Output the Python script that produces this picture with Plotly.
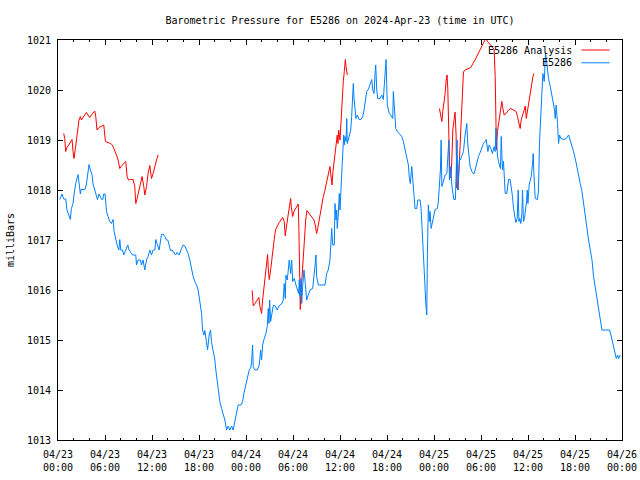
import pandas as pd
import plotly.graph_objects as go

TITLE = "Barometric Pressure for E5286 on 2024-Apr-23 (time in UTC)"
BASE = "2024-04-23 00:00"

# E5286 observations: hours since 2024-04-23 00:00 UTC, pressure (mb)
obs_hours = [0.22, 0.51, 0.73, 0.98, 1.15, 1.41, 1.58, 1.71, 1.92, 2.04, 2.26, 2.56, 2.68, 2.86, 2.94, 3.45, 3.63, 3.76, 3.96, 4.14,
             4.35, 4.47, 4.69, 4.91, 5.04, 5.24, 5.42, 5.58, 5.71, 5.84, 6.01, 6.19, 6.39, 6.61, 6.82, 7.03, 7.16, 7.37, 7.59, 7.76,
             7.89, 8.01, 8.23, 8.4, 8.65, 8.91, 9.07, 9.29, 9.51, 9.93, 10.02, 10.22, 10.53, 10.66, 10.86, 11.08, 11.3, 11.5, 11.72, 11.94,
             12.14, 12.36, 12.49, 12.65, 12.91, 13.21, 13.42, 13.64, 13.85, 14.02, 14.19, 14.36, 14.57, 14.79, 15.0, 15.21, 15.46, 15.77, 15.97, 16.19,
             16.41, 16.61, 16.83, 17.05, 17.25, 17.47, 17.69, 17.89, 18.11, 18.33, 18.45, 18.62, 18.75, 18.88, 18.96, 19.09, 19.3, 19.48, 19.6, 19.81,
             20.03, 20.15, 20.32, 20.5, 20.66, 20.88, 21.09, 21.3, 21.52, 21.73, 21.94, 22.16, 22.36, 22.58, 22.8, 23.0, 23.35, 23.57, 23.73, 23.99,
             24.2, 24.41, 24.59, 24.72, 24.84, 24.92, 25.14, 25.43, 25.69, 25.87, 25.99, 26.12, 26.33, 26.54, 26.71, 26.84, 26.93, 27.02, 27.14, 27.27,
             27.48, 27.69, 27.99, 28.24, 28.55, 28.75, 28.88, 29.01, 29.1, 29.27, 29.39, 29.52, 29.7, 29.83, 29.96, 30.16, 30.38, 30.54, 30.72, 30.8,
             30.89, 31.02, 31.11, 31.23, 31.4, 31.57, 31.74, 31.95, 32.17, 32.51, 32.68, 32.84, 32.93, 33.02, 33.23, 34.08, 34.3, 34.5, 34.72, 34.85,
             34.94, 35.07, 35.27, 35.36, 35.49, 35.58, 35.65, 35.78, 35.91, 36.0, 36.13, 36.22, 36.35, 36.47, 36.55, 36.64, 36.77, 36.86, 36.93, 37.06,
             37.19, 37.37, 37.49, 37.62, 37.7, 37.79, 37.92, 38.04, 38.21, 38.43, 38.68, 38.9, 39.07, 39.2, 39.41, 39.62, 39.83, 40.05, 40.18, 40.35,
             40.47, 40.56, 40.69, 40.82, 41.11, 41.33, 41.53, 41.75, 41.88, 42.04, 42.3, 42.56, 42.73, 42.81, 42.94, 43.12, 43.32, 43.54, 43.88, 44.09,
             44.31, 44.52, 44.73, 44.86, 44.98, 45.16, 45.29, 45.46, 45.58, 45.8, 45.93, 46.22, 46.35, 46.52, 46.7, 46.82, 46.95, 47.08, 47.16, 47.28,
             47.41, 47.5, 47.63, 47.8, 47.97, 48.14, 48.43, 48.56, 48.69, 48.82, 48.91, 49.0, 49.12, 49.25, 49.42, 49.64, 49.76, 49.89, 49.97, 50.15,
             50.27, 50.4, 50.53, 50.73, 50.86, 50.95, 51.04, 51.12, 51.25, 51.37, 51.55, 51.76, 51.97, 52.19, 52.32, 52.49, 52.61, 52.83, 53.09, 53.25,
             53.47, 53.67, 53.89, 54.11, 54.31, 54.53, 54.66, 54.88, 55.04, 55.26, 55.46, 55.68, 55.81, 55.9, 56.03, 56.1, 56.23, 56.36, 56.49, 56.58,
             56.66, 56.74, 56.87, 57.0, 57.09, 57.3, 57.51, 57.72, 57.85, 58.02, 58.15, 58.27, 58.45, 58.62, 58.75, 58.84, 58.96, 59.09, 59.22, 59.3,
             59.42, 59.55, 59.68, 59.81, 59.9, 59.99, 60.15, 60.28, 60.41, 60.58, 60.66, 60.75, 60.92, 61.21, 61.34, 61.47, 61.6, 61.78, 61.9, 62.07,
             62.24, 62.41, 62.62, 62.84, 63.05, 63.26, 63.39, 63.48, 63.6, 63.77, 63.9, 64.03, 64.2, 64.54, 64.88, 65.18, 65.39, 65.61, 65.81, 66.03,
             66.25, 66.45, 66.67, 66.89, 67.09, 67.31, 67.52, 67.73, 67.95, 68.17, 68.37, 68.59, 68.8, 69.01, 69.23, 69.44, 69.86, 70.42, 70.59, 70.85,
             71.05, 71.27, 71.44, 71.57, 71.78]
obs_mb = [1017.81, 1017.92, 1017.82, 1017.82, 1017.6, 1017.48, 1017.41, 1017.63, 1017.73, 1017.9, 1018.13, 1018.31, 1018.13, 1017.92, 1018.01, 1018.01, 1018.12, 1018.27, 1018.51, 1018.4,
          1018.3, 1018.12, 1018.01, 1017.92, 1017.81, 1017.92, 1017.86, 1017.81, 1017.81, 1017.92, 1017.92, 1017.57, 1017.47, 1017.37, 1017.33, 1017.41, 1017.17, 1017.0, 1016.87, 1016.8,
          1017.01, 1016.8, 1016.8, 1016.7, 1016.8, 1016.9, 1016.8, 1016.75, 1016.7, 1016.7, 1016.5, 1016.6, 1016.6, 1016.5, 1016.6, 1016.4, 1016.6, 1016.67, 1016.8, 1016.7,
          1016.8, 1016.8, 1017.01, 1016.93, 1016.8, 1017.11, 1017.12, 1017.07, 1017.0, 1017.0, 1016.9, 1016.79, 1016.8, 1016.75, 1016.7, 1016.75, 1016.7, 1016.83, 1016.9, 1016.88,
          1016.8, 1016.73, 1016.6, 1016.4, 1016.27, 1016.17, 1016.1, 1016.0, 1015.77, 1015.53, 1015.2, 1015.1, 1015.19, 1015.07, 1014.93, 1014.8, 1015.1, 1015.2, 1014.95, 1014.77,
          1014.6, 1014.4, 1014.2, 1014.03, 1013.77, 1013.63, 1013.5, 1013.4, 1013.2, 1013.28, 1013.2, 1013.28, 1013.2, 1013.4, 1013.6, 1013.7, 1013.7, 1013.77, 1013.93, 1014.1,
          1014.27, 1014.4, 1014.43, 1014.57, 1014.9, 1014.47, 1014.4, 1014.4, 1014.5, 1014.8, 1014.6, 1014.9, 1015.03, 1015.13, 1015.27, 1015.63, 1015.33, 1015.8, 1015.37, 1015.53,
          1015.69, 1015.69, 1015.6, 1015.69, 1015.72, 1015.8, 1016.13, 1015.83, 1016.3, 1016.2, 1016.47, 1016.6, 1016.33, 1016.6, 1016.17, 1016.23, 1016.1, 1016.0, 1015.93, 1016.2,
          1015.87, 1016.23, 1015.73, 1016.07, 1016.4, 1016.13, 1015.8, 1015.9, 1016.0, 1016.03, 1016.23, 1016.53, 1016.7, 1016.27, 1016.1, 1016.1, 1016.33, 1016.4, 1016.6, 1016.87,
          1017.23, 1016.9, 1016.9, 1017.73, 1017.4, 1017.6, 1017.23, 1017.5, 1017.93, 1017.6, 1018.13, 1018.13, 1018.73, 1019.1, 1018.9, 1019.07, 1018.97, 1019.43, 1018.93, 1019.0,
          1019.07, 1019.2, 1019.47, 1019.9, 1020.13, 1019.83, 1019.57, 1019.43, 1019.5, 1019.41, 1019.41, 1019.47, 1019.6, 1019.77, 1019.97, 1020.01, 1020.13, 1020.21, 1020.0, 1019.93,
          1020.33, 1020.5, 1020.0, 1019.83, 1019.83, 1019.9, 1019.81, 1020.37, 1020.61, 1019.7, 1019.53, 1019.48, 1019.43, 1019.97, 1019.67, 1019.23, 1019.17, 1019.13, 1019.07, 1018.97,
          1018.8, 1018.67, 1018.5, 1018.23, 1018.13, 1018.47, 1018.27, 1017.87, 1017.63, 1017.63, 1017.8, 1017.8, 1017.63, 1017.17, 1016.67, 1016.17, 1015.73, 1015.5, 1016.73, 1017.7,
          1017.37, 1017.57, 1017.23, 1017.37, 1017.53, 1017.61, 1017.63, 1017.77, 1018.1, 1018.4, 1019.0, 1018.07, 1018.13, 1018.23, 1018.3, 1018.33, 1018.67, 1019.0, 1018.2, 1018.47,
          1018.1, 1017.97, 1017.81, 1017.81, 1018.33, 1019.0, 1018.0, 1018.33, 1018.63, 1018.6, 1018.67, 1018.77, 1019.1, 1019.33, 1018.9, 1018.67, 1018.47, 1018.37, 1018.32, 1018.4,
          1018.57, 1018.67, 1018.75, 1018.87, 1018.93, 1018.97, 1019.01, 1018.77, 1018.9, 1018.83, 1018.73, 1018.87, 1018.77, 1019.23, 1018.83, 1018.7, 1018.57, 1018.5, 1018.43, 1019.07,
          1018.77, 1018.4, 1018.57, 1018.23, 1017.93, 1017.93, 1018.21, 1018.21, 1018.07, 1017.87, 1017.63, 1017.5, 1017.35, 1017.43, 1018.0, 1017.37, 1017.43, 1017.33, 1017.53, 1018.0,
          1017.37, 1017.43, 1017.57, 1017.77, 1018.0, 1017.73, 1018.1, 1018.17, 1018.27, 1018.53, 1018.73, 1018.33, 1017.83, 1017.81, 1018.0, 1018.97, 1019.47, 1020.0, 1020.33, 1020.17,
          1020.73, 1020.53, 1020.23, 1020.07, 1019.9, 1019.77, 1019.6, 1019.43, 1019.7, 1019.33, 1018.93, 1019.1, 1019.03, 1019.01, 1019.03, 1019.1, 1019.0, 1018.87, 1018.77, 1018.63,
          1018.43, 1018.3, 1018.13, 1017.97, 1017.73, 1017.4, 1017.2, 1017.0, 1016.8, 1016.6, 1016.27, 1016.03, 1015.87, 1015.63, 1015.33, 1015.2, 1015.2, 1015.2, 1015.1, 1014.93,
          1014.8, 1014.63, 1014.7, 1014.63, 1014.7]

# E5286 Analysis: three separate runs (hours since 2024-04-23 00:00 UTC, mb)
ana1_hours = [0.73, 0.86, 0.98, 1.15, 1.37, 1.58, 1.79, 1.92, 2.04, 2.22, 2.43, 2.68, 2.86, 2.99, 3.19, 3.41, 3.63, 3.83, 4.05, 4.35,
              4.69, 4.82, 4.98, 5.24, 5.55, 5.84, 6.06, 6.39, 6.7, 6.95, 7.25, 7.46, 7.67, 7.89, 8.1, 8.4, 8.65, 8.82, 9.0, 9.25,
              9.58, 9.8, 9.93, 10.1, 10.31, 10.53, 10.73, 10.95, 11.08, 11.3, 11.5, 11.72, 11.94, 12.14, 12.36, 12.58, 12.78]
ana1_mb = [1019.13, 1019.03, 1018.77, 1018.85, 1018.9, 1018.95, 1019.01, 1018.77, 1018.63, 1018.83, 1019.1, 1019.4, 1019.47, 1019.4, 1019.45, 1019.5, 1019.55, 1019.5, 1019.45, 1019.52,
           1019.58, 1019.47, 1019.2, 1019.25, 1019.27, 1019.3, 1018.97, 1018.95, 1018.93, 1018.9, 1018.8, 1018.7, 1018.6, 1018.43, 1018.48, 1018.53, 1018.57, 1018.27, 1018.2, 1018.21,
           1018.21, 1018.07, 1017.73, 1017.83, 1017.97, 1018.1, 1018.27, 1018.07, 1017.9, 1018.07, 1018.33, 1018.49, 1018.23, 1018.33, 1018.5, 1018.6, 1018.7]

ana2_hours = [24.79, 24.92, 25.14, 25.35, 25.65, 25.78, 25.99, 26.12, 26.29, 26.42, 26.54, 26.63, 26.76, 26.84, 26.96, 27.09, 27.27, 27.4, 27.6, 27.78,
              27.99, 28.24, 28.46, 28.68, 28.88, 29.01, 29.19, 29.39, 29.52, 29.7, 29.78, 29.96, 30.12, 30.34, 30.54, 30.67, 30.76, 30.85, 30.93, 31.02,
              31.14, 31.31, 31.49, 31.62, 31.78, 32.08, 32.38, 32.68, 32.84, 33.02, 33.15, 33.32, 33.53, 33.7, 33.87, 34.04, 34.21, 34.38, 34.56, 34.72,
              34.85, 34.98, 35.1, 35.23, 35.4, 35.58, 35.65, 35.74, 35.83, 36.0, 36.13, 36.26, 36.42, 36.55, 36.68, 36.77, 36.86, 36.93]
ana2_mb = [1015.99, 1015.68, 1015.73, 1015.79, 1015.85, 1015.67, 1015.53, 1015.8, 1016.03, 1016.23, 1016.47, 1016.6, 1016.71, 1016.43, 1016.21, 1016.33, 1016.6, 1016.8, 1017.01, 1017.21,
           1017.28, 1017.35, 1017.4, 1017.45, 1017.37, 1017.08, 1017.3, 1017.53, 1017.63, 1017.83, 1017.67, 1017.47, 1017.57, 1017.63, 1017.7, 1017.72, 1017.17, 1016.33, 1015.61, 1015.93,
           1016.27, 1016.6, 1017.1, 1017.4, 1017.59, 1017.53, 1017.48, 1017.4, 1017.3, 1017.13, 1017.23, 1017.4, 1017.57, 1017.73, 1017.87, 1017.97, 1018.1, 1018.21, 1018.37, 1018.47,
           1018.28, 1018.1, 1018.37, 1018.53, 1018.73, 1018.9, 1019.1, 1018.93, 1019.2, 1019.0, 1019.4, 1019.83, 1020.17, 1020.37, 1020.61, 1020.47, 1020.37, 1020.3]

ana3_hours = [48.69, 48.87, 49.0, 49.12, 49.29, 49.42, 49.55, 49.67, 49.76, 49.89, 50.02, 50.15, 50.27, 50.4, 50.61, 50.69, 50.82, 50.91, 50.98, 51.07,
              51.2, 51.34, 51.46, 51.59, 51.76, 51.97, 52.4, 52.7, 52.96, 53.25, 53.55, 53.89, 54.24, 54.53, 54.66, 54.82, 55.08, 55.39, 55.68, 55.81,
              55.9, 55.97, 56.1, 56.23, 56.36, 56.54, 56.66, 56.79, 56.96, 57.21, 57.51, 57.81, 58.15, 58.49, 58.65, 58.84, 59.0, 59.13, 59.3, 59.52,
              59.65, 59.78, 59.94, 60.12, 60.28, 60.45, 60.63, 60.75]
ana3_mb = [1019.63, 1019.47, 1019.37, 1019.57, 1019.77, 1019.93, 1020.2, 1020.3, 1020.03, 1019.2, 1018.27, 1018.24, 1018.56, 1019.2, 1019.46, 1019.56, 1019.1, 1018.04, 1018.14, 1018.0,
           1018.5, 1019.04, 1019.46, 1019.8, 1020.36, 1020.4, 1020.43, 1020.45, 1020.53, 1020.6, 1020.7, 1020.8, 1020.9, 1021.0, 1021.05, 1020.97, 1020.93, 1020.87, 1020.81, 1020.27,
           1019.47, 1018.8, 1019.17, 1019.33, 1019.47, 1019.6, 1019.77, 1019.63, 1019.5, 1019.53, 1019.6, 1019.63, 1019.6, 1019.57, 1019.47, 1019.3, 1019.23, 1019.4, 1019.5, 1019.63,
           1019.68, 1019.43, 1019.6, 1019.77, 1019.97, 1020.1, 1020.27, 1020.33]

tick_hours = [0, 6, 12, 18, 24, 30, 36, 42, 48, 54, 60, 66, 72]
tick_labels = ["04/23<br>00:00", "04/23<br>06:00", "04/23<br>12:00", "04/23<br>18:00",
               "04/24<br>00:00", "04/24<br>06:00", "04/24<br>12:00", "04/24<br>18:00",
               "04/25<br>00:00", "04/25<br>06:00", "04/25<br>12:00", "04/25<br>18:00",
               "04/26<br>00:00"]
y_range = [1013, 1021]

series_names = ["E5286 Analysis", "E5286"]
RED = "#ff0000"
BLUE = "#0080ff"

base = pd.Timestamp(BASE)


def to_time(hours):
    return list(base + pd.to_timedelta(hours, unit="h"))


red_x, red_y = [], []
for hh, vv in [(ana1_hours, ana1_mb), (ana2_hours, ana2_mb), (ana3_hours, ana3_mb)]:
    if red_x:
        red_x.append(None)
        red_y.append(None)
    red_x += to_time(hh)
    red_y += vv

fig = go.Figure()
fig.add_trace(go.Scatter(x=red_x, y=red_y, mode="lines", name=series_names[0],
                         line=dict(color=RED, width=1), connectgaps=False, showlegend=False))
fig.add_trace(go.Scatter(x=to_time(obs_hours), y=obs_mb, mode="lines", name=series_names[1],
                         line=dict(color=BLUE, width=1), showlegend=False))

FONT = "DejaVu Sans Mono"
W, H = 640, 480
fig.update_layout(
    width=W, height=H,
    margin=dict(l=58, r=18, t=40, b=40),
    paper_bgcolor="white", plot_bgcolor="white",
    font=dict(family=FONT, size=10, color="black"),
    title=dict(text=TITLE, x=340 / W, xanchor="center", y=1 - 20 / H, yanchor="middle",
               font=dict(family=FONT, size=10, color="black")),
    xaxis=dict(
        range=to_time([tick_hours[0], tick_hours[-1]]),
        tickvals=to_time(tick_hours), ticktext=tick_labels,
        ticks="inside", ticklen=5, tickcolor="black", tickwidth=1,
        showline=True, linecolor="black", linewidth=1, mirror="allticks",
        showgrid=False, zeroline=False, automargin=False,
        minor=dict(ticks="inside", ticklen=2, tickcolor="black", dtick=2 * 3600 * 1000,
                   tick0=base, showgrid=False),
        ticklabelstandoff=5, ticklabeloverflow="allow",
    ),
    yaxis=dict(
        range=y_range, dtick=1, tick0=1013,
        ticks="inside", ticklen=5, tickcolor="black", tickwidth=1,
        showline=True, linecolor="black", linewidth=1, mirror="allticks",
        showgrid=False, zeroline=False, automargin=False,
        title=dict(text="milliBars", standoff=10, font=dict(family=FONT, size=10)),
        ticklabelstandoff=4,
    ),
)

# legend drawn gnuplot-style: label right-aligned, sample line on the right
leg_y = [0.975, 0.943]
leg_col = [RED, BLUE]
for name, yy, col in zip(series_names, leg_y, leg_col):
    fig.add_annotation(text=name, xref="paper", yref="paper", x=0.915, y=yy,
                       xanchor="right", yanchor="middle", showarrow=False,
                       font=dict(family=FONT, size=10, color="black"))
    fig.add_shape(type="line", xref="paper", yref="paper", x0=0.928, x1=0.978, y0=yy, y1=yy,
                  line=dict(color=col, width=1))

# remove the default page margin so the 640x480 figure fills the window exactly
fig.write_html("out.html",
               config={"displayModeBar": False},
               post_script="document.body.style.margin='0';document.body.style.overflow='hidden';")
